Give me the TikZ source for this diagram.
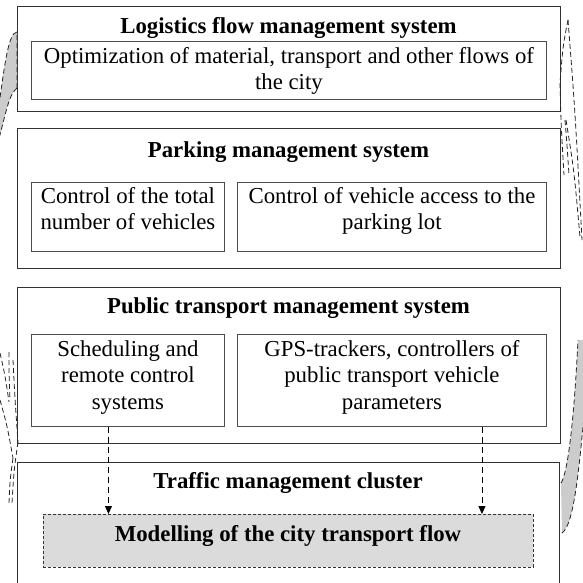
\documentclass[tikz,border=0pt]{standalone}
\usepackage{fontspec}
\setmainfont{Liberation Serif}
\usetikzlibrary{arrows.meta}
% fixes the height of the first line so that text blocks start at a known baseline
\newcommand\firstlinestrut{\rule{0pt}{16.5pt}}

\begin{document}
\begin{tikzpicture}[x=1pt,y=-1pt,
  every node/.style={font=\fontsize{22.8}{26.5}\selectfont},
  outerbox/.style={draw=black!80, line width=0.9pt, rectangle, inner sep=0pt,
                   anchor=north west, minimum width=543pt},
  innerbox/.style={draw=black!70, line width=0.9pt, rectangle, inner sep=0pt,
                   anchor=north west},
  title/.style={font=\fontsize{22.8}{26.5}\selectfont\bfseries, anchor=base, inner sep=0pt},
  boxtext/.style={align=center, anchor=north, inner sep=0pt},
  flow/.style={dash pattern=on 6pt off 4pt, line width=0.9pt,
               -{Triangle[length=8pt,width=7pt]}},
  swirl/.style={dash pattern=on 5pt off 3pt, line width=0.8pt, draw=black!85},
  swirlfill/.style={fill=black!20},
]
\useasboundingbox (0,0) rectangle (583,582);
\fill[white] (0,0) rectangle (583,582);
\clip (0,0) rectangle (583,582);

% ---- outer system frames ----
\node[outerbox, minimum height=105pt] (logi) at (17,6) {};
\node[outerbox, minimum height=140pt] (park) at (17,128) {};
\node[outerbox, minimum height=156pt] (pub) at (17,287) {};
\node[outerbox, minimum width=542pt, minimum height=140pt] (traf) at (17,462) {};

% ---- frame titles ----
\node[title] (logiT) at (288.5,33) {Logistics flow management system};
\node[title] (parkT) at (288.5,157) {Parking management system};
\node[title] (pubT) at (288.5,313) {Public transport management system};
\node[title] (trafT) at (288,488) {Traffic management cluster};

% ---- sub-systems ----
\node[innerbox, minimum width=515pt, minimum height=58pt] (opt) at (31,41) {};
\node[boxtext] (optT) at ([yshift=-5.5pt]opt.north)
  {\firstlinestrut Optimization of material, transport and other flows of\\the city};

\node[innerbox, minimum width=193pt, minimum height=69pt] (parkA) at (31,182) {};
\node[boxtext] (parkAT) at ([yshift=-4.5pt]parkA.north)
  {\firstlinestrut Control of the total\\number of vehicles};
\node[innerbox, minimum width=309pt, minimum height=69pt] (parkB) at (237,182) {};
\node[boxtext] (parkBT) at ([yshift=-4.5pt]parkB.north)
  {\firstlinestrut Control of vehicle access to the\\parking lot};

\node[innerbox, minimum width=193pt, minimum height=92pt] (pubA) at (31,334) {};
\node[boxtext] (pubAT) at ([yshift=-5.5pt]pubA.north)
  {\firstlinestrut Scheduling and\\remote control\\systems};
\node[innerbox, minimum width=309pt, minimum height=92pt] (pubB) at (237,334) {};
\node[boxtext] (pubBT) at ([yshift=-5.5pt]pubB.north)
  {\firstlinestrut GPS-trackers, controllers of\\public transport vehicle\\parameters};

% ---- modelling block ----
\node[draw=black!80, dash pattern=on 3pt off 2pt, line width=0.9pt, fill=black!14,
      minimum width=490pt, minimum height=53pt, anchor=north west, inner sep=0pt]
      (model) at (43,514) {};
\node[title] (modelT) at (288,541) {Modelling of the city transport flow};

% ---- data flows into the model ----
\draw[flow] ([xshift=-19.5pt]pubA.south) -- ([xshift=-19.5pt]pubA.south |- model.north);
\draw[flow] ([xshift=90pt]pubB.south) -- ([xshift=90pt]pubB.south |- model.north);

% ---- side swirls ----
% upper left, shaded
\fill[swirlfill] (17,32) .. controls (8,32) and (4,70) .. (-2,112)
  -- (-2,142) .. controls (5,118) and (8,95) .. (17,88) -- cycle;
\draw[swirl] (17,88) -- (17,32) .. controls (8,32) and (4,70) .. (-2,112);
\draw[swirl] (17,88) .. controls (8,95) and (5,118) .. (-2,142);

% lower right, shaded
\fill[swirlfill] (561,483) .. controls (566,476) and (573,440) .. (578,340)
  -- (590,340) -- (590,405) -- (585,405)
  .. controls (579,470) and (574,525) .. (562,533) -- cycle;
\draw[swirl] (561,483) .. controls (566,476) and (573,440) .. (578,340);
\draw[swirl] (562,533) .. controls (574,525) and (579,470) .. (585,405);

% upper right, outline only
\draw[swirl] (568,20) .. controls (563,45) .. (560,83);
\draw[swirl] (560,83) .. controls (561,125) .. (564,175);
\draw[swirl] (568,20) .. controls (575,110) .. (582,240);
\draw[swirl] (565,120) .. controls (567,145) .. (569,175);
\draw[swirl] (566,120) .. controls (574,170) .. (580,237);

% lower left, outline only
\draw[swirl] (0,353) .. controls (5,375) .. (9,402);
\draw[swirl] (9,352) .. controls (9,375) .. (10,400);
\draw[swirl] (13,360) .. controls (15,400) .. (18,442);
\draw[swirl] (0,400) .. controls (7,425) .. (13,458);
\draw[swirl] (13,458) .. controls (10,480) .. (9,503);
\draw[swirl] (18,442) .. controls (14,470) .. (12,503);
\end{tikzpicture}
\end{document}
